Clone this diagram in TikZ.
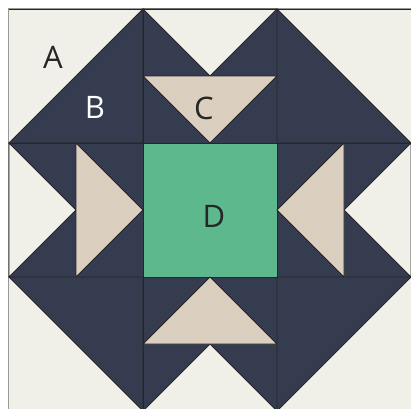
\documentclass[tikz,border=0pt]{standalone}
\usepackage{fontspec}
\setmainfont{Open Sans}
\definecolor{cream}{HTML}{F0F0E8}
\definecolor{navy}{HTML}{363C50}
\definecolor{tan}{HTML}{DBCFBF}
\definecolor{mint}{HTML}{5DB88E}
\definecolor{edge}{HTML}{262628}
\begin{document}
\begin{tikzpicture}[x=1pt,y=-1pt,
  patch/.style={draw=edge,line width=0.8pt,line join=miter},
  lbl/.style={font=\fontsize{31}{31}\selectfont,inner sep=0pt}]
\useasboundingbox (0,0) rectangle (411,408);
\fill[white] (0,0) rectangle (411,408);
% background
\fill[cream] (9,9) rectangle (415,415);
\draw[gray!80,line width=1.2pt] (8.4,420) -- (8.4,8.4) -- (420,8.4);
% top row
\fill[patch,fill=navy] (9,143) -- (143,9) -- (143,143) -- cycle;
\fill[patch,fill=navy] (143,9) rectangle (277,143);
\fill[patch,fill=cream] (143,9) -- (277,9) -- (210,76) -- cycle;
\fill[patch,fill=tan] (143,76) -- (277,76) -- (210,143) -- cycle;
\fill[patch,fill=navy] (277,9) -- (411,143) -- (277,143) -- cycle;
% middle row
\fill[patch,fill=navy] (9,143) rectangle (143,277);
\fill[patch,fill=cream] (9,143) -- (9,277) -- (76,210) -- cycle;
\fill[patch,fill=tan] (76,143) -- (76,277) -- (143,210) -- cycle;
\fill[patch,fill=mint] (143,143) rectangle (277,277);
\fill[patch,fill=navy] (277,143) rectangle (411,277);
\fill[patch,fill=cream] (411,143) -- (411,277) -- (344,210) -- cycle;
\fill[patch,fill=tan] (344,143) -- (344,277) -- (277,210) -- cycle;
% bottom row
\fill[patch,fill=navy] (9,277) -- (143,277) -- (143,411) -- cycle;
\fill[patch,fill=navy] (143,277) rectangle (277,411);
\fill[patch,fill=cream] (143,411) -- (277,411) -- (210,344) -- cycle;
\fill[patch,fill=tan] (143,344) -- (277,344) -- (210,277) -- cycle;
\fill[patch,fill=navy] (277,277) -- (411,277) -- (277,411) -- cycle;
% top edge line
\draw[edge,line width=0.9pt] (9,9.6) -- (420,9.6);
% labels
\node[lbl,text=black!85] (A) at (53,57) {A};
\node[lbl,text=white] (B) at (95,107) {B};
\node[lbl,text=black!85] (C) at (204,108) {C};
\node[lbl,text=black!85] (D) at (214,216) {D};
\end{tikzpicture}
\end{document}
